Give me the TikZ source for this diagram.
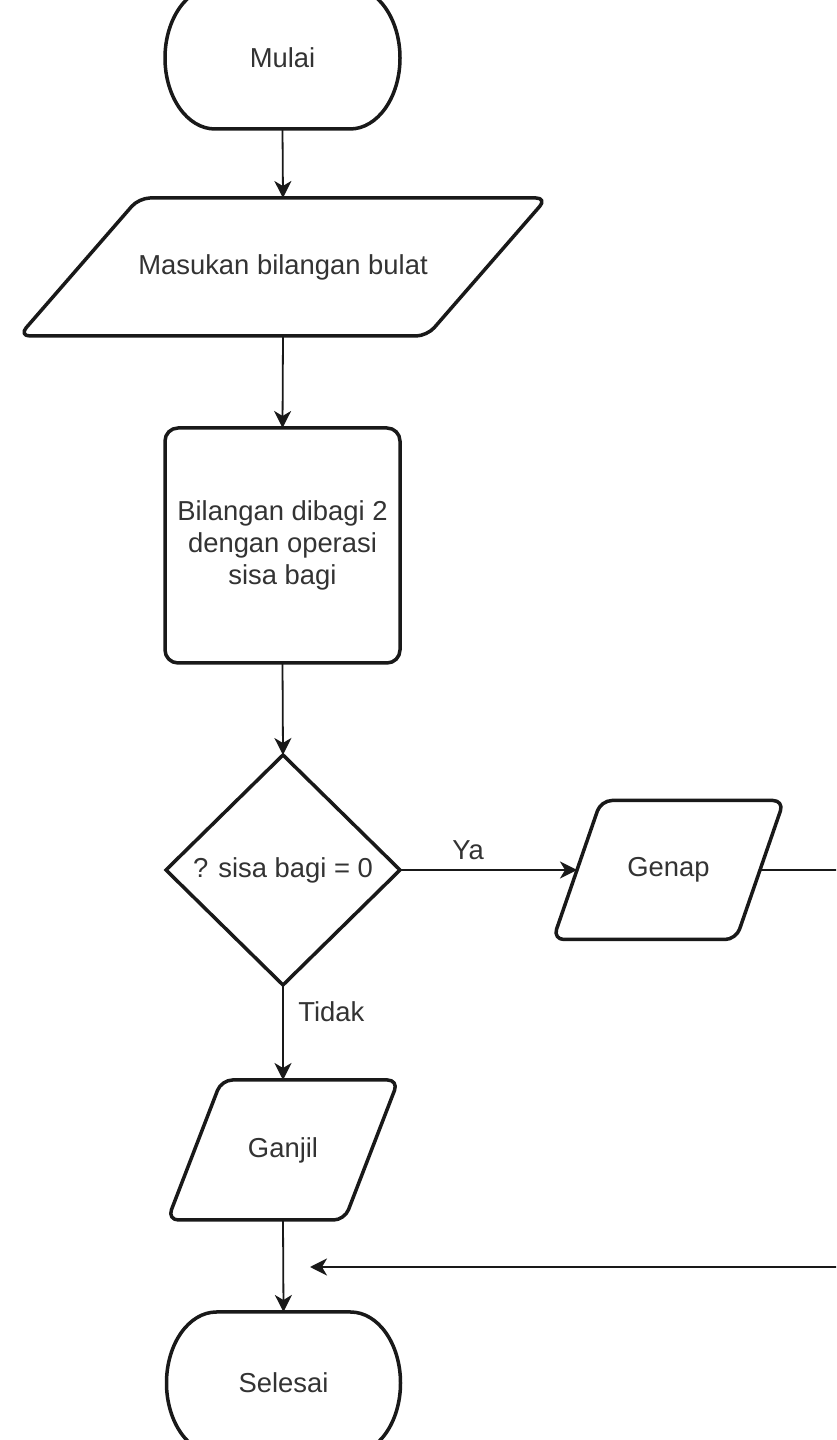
\documentclass[tikz,border=0pt]{standalone}
\usepackage{fontspec}
\setmainfont{Liberation Sans}
\usetikzlibrary{shapes.geometric,arrows.meta,calc}
\begin{document}
\begin{tikzpicture}[x=0.5pt,y=0.5pt,
  txt/.style={font=\fontsize{13.7pt}{16pt}\selectfont, text=black!80},
  hold/.style={txt, inner sep=0pt, outer sep=0pt, align=center},
  outline/.style={line width=1.75pt, draw=black!90, line join=round},
  conn/.style={line width=0.9pt, draw=black!90, -{Stealth[length=8.5pt,width=8.5pt,inset=2.5pt]}},
  plain/.style={line width=0.9pt, draw=black!90}]
\clip (0,0) rectangle (836,1440);
\fill[white] (0,0) rectangle (836,1440);

% nodes
\node[hold, minimum width=117.5pt, minimum height=71pt] (m) at (282.5,1382) {Mulai};
\node[hold, minimum width=204pt, minimum height=69pt] (in) at (283,1173) {Masukan bilangan bulat};
\node[hold, draw, outline, rounded corners=6.5pt, minimum width=117.5pt, minimum height=117.5pt] (r) at (282.5,894.5) {Bilangan dibagi 2\\dengan operasi\\sisa bagi};
\node[hold, diamond, draw, line width=1.75pt, draw=black!90, minimum width=117pt, minimum height=115pt] (d) at (283,570) {? sisa bagi = 0};
\node[hold, minimum width=91.5pt, minimum height=69.5pt] (g) at (668.5,570) {Genap};
\node[hold, minimum width=88.5pt, minimum height=70pt] (gj) at (283,290) {Ganjil};
\node[hold, minimum width=117pt, minimum height=71pt] (s) at (283.5,57) {Selesai};

% terminal outlines
\foreach \n in {m,s}{
  \draw[outline] (\n.south) -- ($(\n.south east)+(-25pt,0)$)
    arc[start angle=-90,end angle=90,x radius=25pt,y radius=35.5pt]
    -- ($(\n.north west)+(25pt,0)$)
    arc[start angle=90,end angle=270,x radius=25pt,y radius=35.5pt] -- cycle;
}
% parallelogram outlines
\draw[outline, rounded corners=5.5pt] (in.south) -- ($(in.south east)+(-30pt,0)$) -- ($(in.north east)+(30pt,0)$) -- ($(in.north west)+(30pt,0)$) -- ($(in.south west)+(-30pt,0)$) -- cycle;
\draw[outline, rounded corners=5.5pt] (g.south) -- ($(g.south east)+(-12pt,0)$) -- ($(g.north east)+(12pt,0)$) -- ($(g.north west)+(12pt,0)$) -- ($(g.south west)+(-12pt,0)$) -- cycle;
\draw[outline, rounded corners=5.5pt] (gj.south) -- ($(gj.south east)+(-13.5pt,0)$) -- ($(gj.north east)+(13.5pt,0)$) -- ($(gj.north west)+(13.5pt,0)$) -- ($(gj.south west)+(-13.5pt,0)$) -- cycle;

% labels
\node[txt, inner sep=0pt] (ya) at (468,590) {Ya};
\node[txt, inner sep=0pt, anchor=west] (tidak) at (298,428) {Tidak};

% connectors
\coordinate (corner) at (900,173);
\coordinate (ret) at (310,173);
\draw[conn] (m.south) -- (in.north);
\draw[conn] (in.south) -- (r.north);
\draw[conn] (r.south) -- (d.north);
\draw[conn] (d.east) -- (g.west);
\draw[conn] (d.south) -- (gj.north);
\draw[conn] (gj.south) -- (s.north);
\draw[conn] (g.east) -| (corner) -- (ret);
\end{tikzpicture}
\end{document}
